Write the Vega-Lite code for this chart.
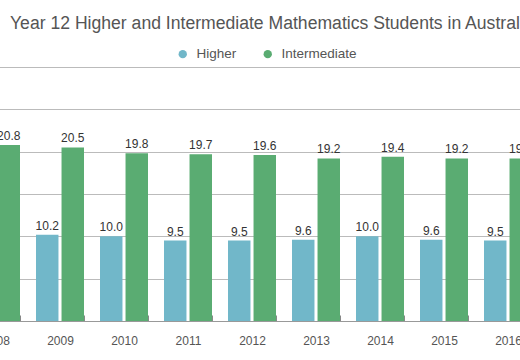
{
  "$schema": "https://vega.github.io/schema/vega-lite/v6.json",
  "autosize": {"type": "none"},
  "padding": {"left": -36, "top": 67, "right": -20, "bottom": 39},
  "width": 576,
  "height": 254,
  "title": {
    "text": "Year 12 Higher and Intermediate Mathematics Students in Australia",
    "anchor": "start",
    "frame": "group",
    "dx": 46,
    "offset": 14,
    "fontSize": 17.6,
    "fontWeight": "normal",
    "font": "Liberation Sans",
    "color": "#555555"
  },
  "data": {
    "values": [
      {"year": "2008", "series": "Higher", "value": 10.4},
      {"year": "2008", "series": "Intermediate", "value": 20.8},
      {"year": "2009", "series": "Higher", "value": 10.2},
      {"year": "2009", "series": "Intermediate", "value": 20.5},
      {"year": "2010", "series": "Higher", "value": 10.0},
      {"year": "2010", "series": "Intermediate", "value": 19.8},
      {"year": "2011", "series": "Higher", "value": 9.5},
      {"year": "2011", "series": "Intermediate", "value": 19.7},
      {"year": "2012", "series": "Higher", "value": 9.5},
      {"year": "2012", "series": "Intermediate", "value": 19.6},
      {"year": "2013", "series": "Higher", "value": 9.6},
      {"year": "2013", "series": "Intermediate", "value": 19.2},
      {"year": "2014", "series": "Higher", "value": 10.0},
      {"year": "2014", "series": "Intermediate", "value": 19.4},
      {"year": "2015", "series": "Higher", "value": 9.6},
      {"year": "2015", "series": "Intermediate", "value": 19.2},
      {"year": "2016", "series": "Higher", "value": 9.5},
      {"year": "2016", "series": "Intermediate", "value": 19.2}
    ]
  },
  "encoding": {
    "x": {
      "field": "year",
      "type": "nominal",
      "scale": {"paddingInner": 0.25, "paddingOuter": 0.125},
      "axis": {
        "title": null,
        "labelAngle": 0,
        "tickBand": "extent",
        "tickSize": -6,
        "tickColor": "#888888",
        "domainColor": "#999999",
        "labelPadding": 20,
        "labelFontSize": 12,
        "labelColor": "#555555",
        "labelFont": "Liberation Sans"
      }
    },
    "xOffset": {"field": "series", "type": "nominal", "scale": {"paddingInner": 0.12}},
    "y": {
      "field": "value",
      "type": "quantitative",
      "scale": {"domain": [0, 30]},
      "axis": {
        "title": null,
        "labels": false,
        "ticks": false,
        "domain": false,
        "values": [0, 5, 10, 15, 20, 25, 30],
        "gridColor": "#bbbbbb"
      }
    }
  },
  "layer": [
    {
      "mark": {"type": "bar"},
      "encoding": {
        "color": {
          "field": "series",
          "type": "nominal",
          "scale": {"domain": ["Higher", "Intermediate"], "range": ["#71b7c9", "#5aac72"]},
          "legend": {
            "title": null,
            "orient": "none",
            "direction": "horizontal",
            "legendX": 212,
            "legendY": -20,
            "symbolType": "circle",
            "symbolSize": 70,
            "symbolStrokeWidth": 0,
            "labelFontSize": 13.5,
            "labelFont": "Liberation Sans",
            "labelColor": "#555555",
            "labelOffset": 7,
            "columnPadding": 24
          }
        }
      }
    },
    {
      "mark": {"type": "text", "baseline": "bottom", "dy": -2, "fontSize": 12, "font": "Liberation Sans", "color": "#333333"},
      "encoding": {
        "text": {"field": "value", "type": "quantitative", "format": ".1f"}
      }
    }
  ]
}
